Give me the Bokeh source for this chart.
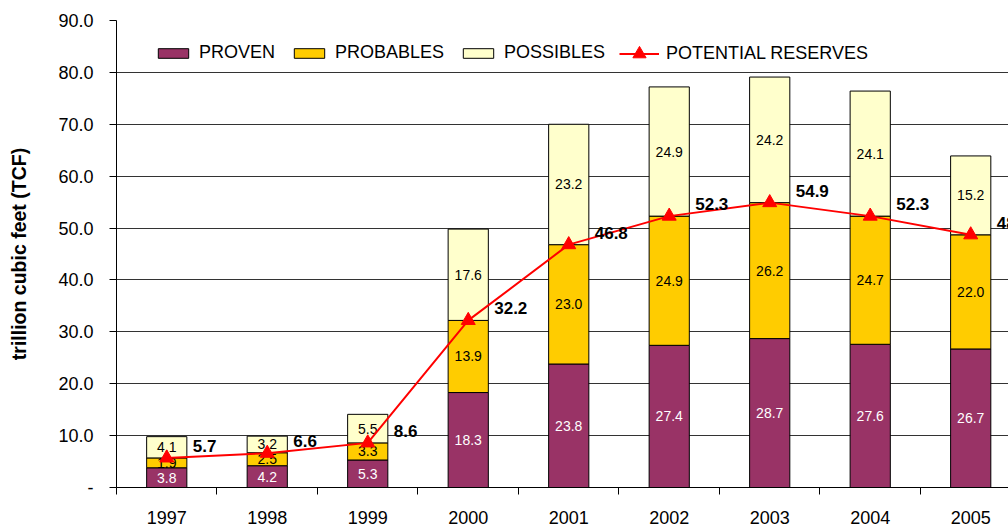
from bokeh.plotting import figure
from bokeh.models import ColumnDataSource, Range1d, FixedTicker, Legend, LegendItem
from bokeh.core.properties import value
from bokeh.embed import file_html
from bokeh.resources import INLINE

# ---- data ----
years = ["1997", "1998", "1999", "2000", "2001", "2002", "2003", "2004", "2005"]
proven = [3.8, 4.2, 5.3, 18.3, 23.8, 27.4, 28.7, 27.6, 26.7]
probables = [1.9, 2.5, 3.3, 13.9, 23.0, 24.9, 26.2, 24.7, 22.0]
possibles = [4.1, 3.2, 5.5, 17.6, 23.2, 24.9, 24.2, 24.1, 15.2]
potential = [5.7, 6.6, 8.6, 32.2, 46.8, 52.3, 54.9, 52.3, 48.7]
y_ticks = [0, 10, 20, 30, 40, 50, 60, 70, 80, 90]

FONT = "Liberation Sans"
C_PROVEN = "#993366"
C_PROB = "#FFCC00"
C_POSS = "#FFFFCC"
C_LINE = "#FF0000"

n = len(years)
xs = [i + 0.5 for i in range(n)]
top1 = proven
top2 = [a + b for a, b in zip(proven, probables)]
top3 = [a + b for a, b in zip(top2, possibles)]

src = ColumnDataSource(dict(
    x=xs,
    b1=[0] * n, t1=top1,
    b2=top1, t2=top2,
    b3=top2, t3=top3,
    m1=[t / 2 for t in top1],
    m2=[(a + b) / 2 for a, b in zip(top1, top2)],
    m3=[(a + b) / 2 for a, b in zip(top2, top3)],
    l1=[f"{v:.1f}" for v in proven],
    l2=[f"{v:.1f}" for v in probables],
    l3=[f"{v:.1f}" for v in possibles],
    pot=potential,
    lp=[f"{v:.1f}" for v in potential],
))

visible_categories = 8.876  # chart is cropped on the right

p = figure(width=1008, height=526, output_backend="svg", toolbar_location=None,
           x_range=Range1d(0, visible_categories), y_range=Range1d(0, 90),
           min_border_left=116, min_border_right=0, min_border_top=20,
           min_border_bottom=38)
p.outline_line_color = None
p.background_fill_color = "white"
p.border_fill_color = "white"

bw = 0.4
r1 = p.vbar(x="x", bottom="b1", top="t1", width=bw, source=src,
            fill_color=C_PROVEN, line_color="black", line_width=1)
r2 = p.vbar(x="x", bottom="b2", top="t2", width=bw, source=src,
            fill_color=C_PROB, line_color="black", line_width=1)
r3 = p.vbar(x="x", bottom="b3", top="t3", width=bw, source=src,
            fill_color=C_POSS, line_color="black", line_width=1)

for mid, lab, col in (("m1", "l1", "white"), ("m2", "l2", "black"), ("m3", "l3", "black")):
    p.text(x="x", y=mid, text=lab, source=src, text_align="center",
           text_baseline="middle", text_font=value(FONT),
           text_font_size="14px", text_color=col)

ln = p.line(x="x", y="pot", source=src, line_color=C_LINE, line_width=2)
mk = p.scatter(x="x", y="pot", source=src, marker="triangle", size=14,
               fill_color=C_LINE, line_color=C_LINE)
p.text(x="x", y="pot", text="lp", source=src, x_offset=26, y_offset=-12,
       text_align="left", text_baseline="middle", text_font=value(FONT),
       text_font_size="17px", text_font_style="bold", text_color="black")

# axes
p.xaxis.ticker = FixedTicker(ticks=xs, minor_ticks=list(range(n + 1)))
p.xaxis.major_label_overrides = {x: y for x, y in zip(xs, years)}
p.xaxis.major_tick_out = 0
p.xaxis.major_tick_in = 0
p.xaxis.minor_tick_out = 7
p.xaxis.minor_tick_in = 0
p.xaxis.minor_tick_line_color = "black"
p.xaxis.axis_line_color = "black"
p.xaxis.major_label_standoff = 16
p.xaxis.major_label_text_font = FONT
p.xaxis.major_label_text_font_size = "18px"
p.xaxis.major_label_text_color = "black"

p.yaxis.ticker = FixedTicker(ticks=y_ticks)
p.yaxis.major_label_overrides = {t: ("-" if t == 0 else f"{t:.1f}") for t in y_ticks}
p.yaxis.major_tick_out = 7
p.yaxis.major_tick_in = 0
p.yaxis.minor_tick_line_color = None
p.yaxis.major_tick_line_color = "black"
p.yaxis.axis_line_color = "black"
p.yaxis.major_label_standoff = 16
p.yaxis.major_label_text_font = FONT
p.yaxis.major_label_text_font_size = "18px"
p.yaxis.major_label_text_color = "black"
p.yaxis.axis_label = "trillion cubic feet (TCF)"
p.yaxis.axis_label_text_font = FONT
p.yaxis.axis_label_text_font_size = "19.5px"
p.yaxis.axis_label_text_font_style = "bold"
p.yaxis.axis_label_text_color = "black"
p.yaxis.axis_label_standoff = 25

p.xgrid.visible = False
p.ygrid.ticker = FixedTicker(ticks=y_ticks)
p.ygrid.grid_line_color = "#333333"
p.ygrid.grid_line_width = 1


def style_legend(lg, gh):
    lg.glyph_width = 38 if gh < 20 else 40
    lg.glyph_height = gh
    lg.label_standoff = 7
    lg.spacing = 15
    lg.padding = 0
    lg.margin = 0
    lg.border_line_color = None
    lg.background_fill_alpha = 0
    lg.label_text_font = FONT
    lg.label_text_font_size = "18px"
    lg.label_text_color = "black"


legend = Legend(items=[
    LegendItem(label="PROVEN", renderers=[r1]),
    LegendItem(label="PROBABLES", renderers=[r2]),
    LegendItem(label="POSSIBLES", renderers=[r3]),
], orientation="horizontal", location=(38, 424))
style_legend(legend, 12)
p.add_layout(legend)

legend2 = Legend(items=[
    LegendItem(label="POTENTIAL RESERVES", renderers=[ln, mk]),
], orientation="horizontal", location=(503, 417))
style_legend(legend2, 33)
p.add_layout(legend2)

open("out.html", "w").write(file_html(p, INLINE))
